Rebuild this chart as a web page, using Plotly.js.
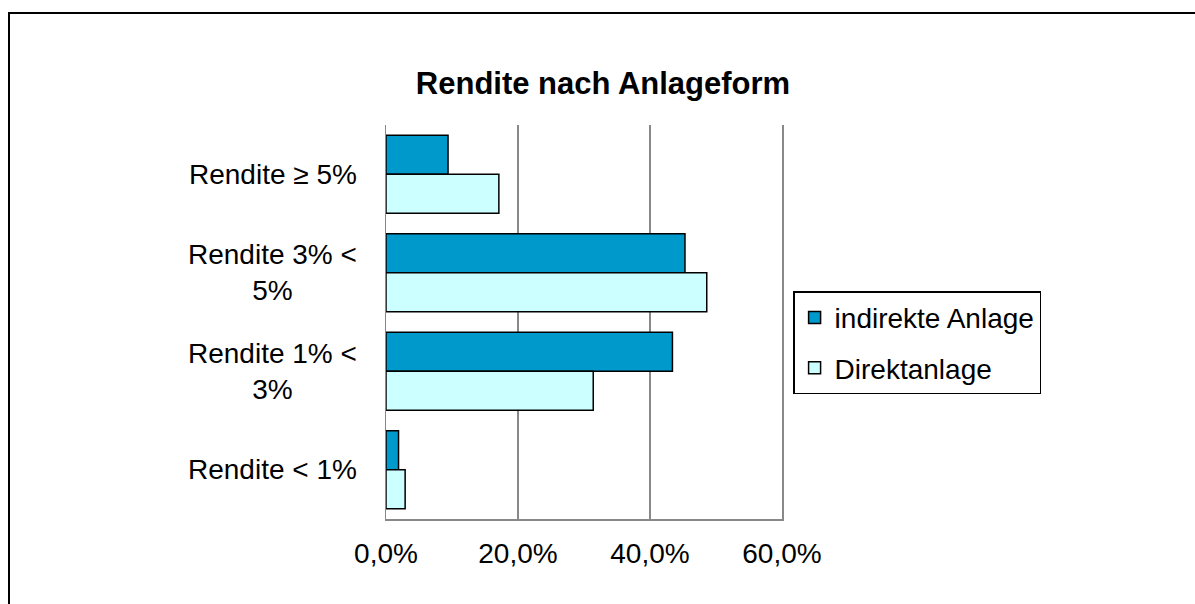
<!DOCTYPE html>
<html>
<head>
<meta charset="utf-8">
<script src="https://cdn.plot.ly/plotly-3.0.1.min.js"></script>
<style>
  html, body { margin: 0; padding: 0; background: #fff; overflow: hidden; }
  #wrap { position: relative; width: 1195px; height: 604px; }
  #chart { width: 1195px; height: 604px; }
  #frame { position: absolute; left: 8px; top: 12px; width: 1300px; height: 700px;
           border: 2px solid #000; pointer-events: none; box-sizing: border-box; }
</style>
</head>
<body>
<div id="wrap">
  <div id="chart"></div>
  <div id="frame"></div>
</div>
<script>
// Data (top-to-bottom order as in the reference)
const categories = ["Rendite ≥ 5%", "Rendite 3% < 5%", "Rendite 1% < 3%", "Rendite < 1%"];
const categoryLabels = ["Rendite ≥ 5%", "Rendite 3% <<br>5%", "Rendite 1% <<br>3%", "Rendite < 1%"];
const indirekteAnlage = [9.4, 45.3, 43.4, 1.9];
const direktanlage = [17.1, 48.6, 31.4, 2.9];
const seriesNames = ["indirekte Anlage", "Direktanlage"];
const xTickValues = [0, 20, 40, 60];
const xTickLabels = ["0,0%", "20,0%", "40,0%", "60,0%"];

const FONT = "Liberation Sans, Arial, sans-serif";
const FS = 28;

const traces = [
  {
    type: "bar", orientation: "h", name: seriesNames[0], legendgroup: "a",
    y: categories, x: indirekteAnlage,
    marker: { color: "#0099CC", line: { color: "#000", width: 1.5 } },
    hoverinfo: "x+y"
  },
  {
    type: "bar", orientation: "h", name: seriesNames[1], legendgroup: "b",
    y: categories, x: direktanlage,
    marker: { color: "#CCFFFF", line: { color: "#000", width: 1.5 } },
    hoverinfo: "x+y"
  }
];

const annotations = categories.map((c, i) => ({
  xref: "paper", yref: "y", x: -0.068, y: c,
  xanchor: "right", yanchor: "middle", align: "center",
  text: categoryLabels[i], showarrow: false,
  font: { family: FONT, size: FS, color: "#000" }
}));

const layout = {
  width: 1195, height: 604,
  margin: { l: 386, r: 413, t: 125, b: 85, pad: 0 },
  paper_bgcolor: "#fff", plot_bgcolor: "#fff",
  separators: ",.",
  font: { family: FONT, size: FS, color: "#000" },
  title: {
    text: "<b>Rendite nach Anlageform</b>",
    font: { family: FONT, size: 31, color: "#000" },
    xref: "container", x: 0.5046, xanchor: "center",
    yref: "container", y: 0.862, yanchor: "middle"
  },
  barmode: "group", bargap: 0.21, bargroupgap: 0,
  xaxis: {
    range: [0, 60], tickmode: "array", tickvals: xTickValues, ticktext: xTickLabels,
    showgrid: true, gridcolor: "#888", gridwidth: 1.5,
    showline: true, linecolor: "#888", linewidth: 1.5,
    zeroline: false, ticks: "", ticklabelstandoff: 9,
    tickfont: { family: FONT, size: FS, color: "#000" }, fixedrange: true
  },
  yaxis: {
    type: "category", autorange: "reversed",
    showticklabels: false, showgrid: false, ticks: "",
    showline: true, mirror: true, linecolor: "#888", linewidth: 1.5, zeroline: false, fixedrange: true
  },
  legend: {
    x: 1.028, xanchor: "left", y: 0.578, yanchor: "top",
    bordercolor: "#000", borderwidth: 1.5, bgcolor: "#fff",
    font: { family: FONT, size: FS, color: "#000" },
    tracegroupgap: 11, traceorder: "grouped"
  },
  annotations: annotations,
  showlegend: true
};

Plotly.newPlot("chart", traces, layout, { displayModeBar: false, staticPlot: true });
</script>
</body>
</html>
